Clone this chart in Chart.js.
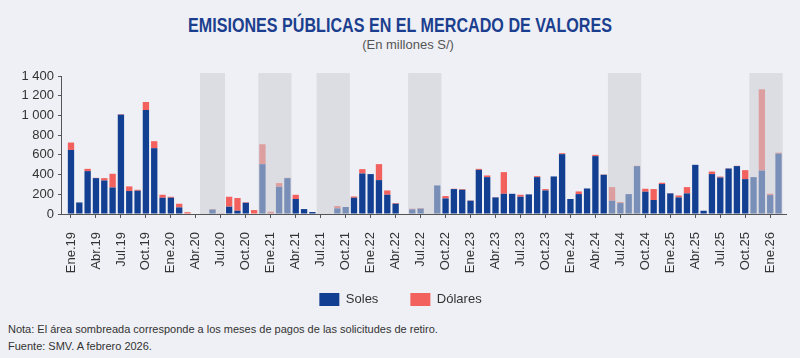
<!DOCTYPE html>
<html lang="es">
<head>
<meta charset="utf-8">
<script src="https://cdn.jsdelivr.net/npm/chart.js@4.4.1/dist/chart.umd.min.js"></script>
<style>
  html, body { margin: 0; padding: 0; }
  body {
    width: 800px; height: 358px; position: relative; overflow: hidden;
    background: #eff0f5;
    font-family: 'Liberation Sans', Arial, sans-serif;
  }
  .titulo {
    position: absolute; left: 0; width: 800px; top: 14px; text-align: center;
    font-size: 20px; font-weight: bold; color: #1b3f8e;
  }
  .titulo span { display: inline-block; transform-origin: 50% 50%; }
  .subtitulo {
    position: absolute; left: 0; width: 800px; top: 37px; text-align: center;
    font-size: 13px; color: #555; padding-left: 8px;
  }
  .grafico { position: absolute; left: 0; top: 60px; width: 800px; height: 256px; }
  .nota {
    position: absolute; left: 8px; top: 321px; font-size: 11px; color: #333; line-height: 17px;
  }
</style>
</head>
<body>
<div class="titulo"><span id="titulo">EMISIONES PÚBLICAS EN EL MERCADO DE VALORES</span></div>
<div class="subtitulo">(En millones S/)</div>
<div class="grafico"><canvas id="graficoEmisiones"></canvas></div>
<div class="nota">Nota: El área sombreada corresponde a los meses de pagos de las solicitudes de retiro.<br>Fuente: SMV. A febrero 2026.</div>
<script>
// Meses (Ene.19 - Feb.26)
const meses = [
    "Ene.19", "Feb.19", "Mar.19", "Abr.19", "May.19", "Jun.19", "Jul.19", "Ago.19", "Sep.19", "Oct.19", "Nov.19", "Dic.19",
    "Ene.20", "Feb.20", "Mar.20", "Abr.20", "May.20", "Jun.20", "Jul.20", "Ago.20", "Sep.20", "Oct.20", "Nov.20", "Dic.20",
    "Ene.21", "Feb.21", "Mar.21", "Abr.21", "May.21", "Jun.21", "Jul.21", "Ago.21", "Sep.21", "Oct.21", "Nov.21", "Dic.21",
    "Ene.22", "Feb.22", "Mar.22", "Abr.22", "May.22", "Jun.22", "Jul.22", "Ago.22", "Sep.22", "Oct.22", "Nov.22", "Dic.22",
    "Ene.23", "Feb.23", "Mar.23", "Abr.23", "May.23", "Jun.23", "Jul.23", "Ago.23", "Sep.23", "Oct.23", "Nov.23", "Dic.23",
    "Ene.24", "Feb.24", "Mar.24", "Abr.24", "May.24", "Jun.24", "Jul.24", "Ago.24", "Sep.24", "Oct.24", "Nov.24", "Dic.24",
    "Ene.25", "Feb.25", "Mar.25", "Abr.25", "May.25", "Jun.25", "Jul.25", "Ago.25", "Sep.25", "Oct.25", "Nov.25", "Dic.25",
    "Ene.26", "Feb.26"
];

// Emisiones en soles (millones S/)
const soles = [
    650, 117, 435, 364, 340, 269, 1008, 233, 236, 1055, 668, 165,
    165, 67, 0, 0, 0, 45, 0, 74, 33, 114, 0, 506,
    0, 276, 364, 152, 50, 20, 0, 0, 57, 71, 165, 411,
    405, 344, 195, 104, 0, 47, 54, 0, 290, 158, 253, 246,
    135, 448, 374, 168, 205, 205, 175, 199, 374, 239, 381, 607,
    152, 202, 259, 587, 398, 135, 111, 202, 486, 226, 142, 304,
    209, 168, 209, 499, 33, 405, 370, 461, 486, 354, 374, 441,
    192, 613
];

// Emisiones en dólares (expresadas en millones S/)
const dolares = [
    75, 0, 23, 3, 24, 139, 5, 47, 10, 81, 71, 30,
    10, 37, 18, 0, 0, 5, 8, 101, 129, 5, 40, 202,
    23, 38, 3, 43, 0, 0, 5, 5, 24, 0, 13, 44,
    0, 162, 44, 7, 0, 7, 7, 0, 0, 24, 3, 7,
    3, 10, 17, 3, 220, 0, 20, 0, 10, 14, 0, 10,
    0, 27, 0, 13, 3, 138, 10, 0, 3, 30, 111, 13,
    3, 20, 64, 0, 0, 26, 10, 3, 3, 91, 0, 824,
    14, 10
];

// Meses de pagos de las solicitudes de retiro (área sombreada)
const periodosRetiro = [
    ["May.20", "Jul.20"],
    ["Dic.20", "Mar.21"],
    ["Jul.21", "Oct.21"],
    ["Jun.22", "Sep.22"],
    ["Jun.24", "Sep.24"],
    ["Nov.25", "Feb.26"]
];

const ticksY = [0, 200, 400, 600, 800, 1000, 1200, 1400];

const fuente = "'Liberation Sans', Arial, sans-serif";

// el título del original es condensado: se comprime a lo ancho
const titulo = document.getElementById("titulo");
titulo.style.transform = "scaleX(" + (424 / titulo.offsetWidth) + ")";

// Sombreado encima de las barras (las aclara)
const sombreado = {
    id: "sombreado",
    afterDatasetsDraw(chart) {
        const ctx = chart.ctx;
        const x = chart.scales.x;
        const y = chart.scales.y;
        ctx.save();
        ctx.fillStyle = "rgba(205, 207, 213, 0.56)";
        periodosRetiro.forEach(p => {
            const i0 = meses.indexOf(p[0]);
            const i1 = meses.indexOf(p[1]);
            const left = x.getPixelForValue(i0 - 0.5);
            const right = x.getPixelForValue(i1 + 0.5);
            const top = y.getPixelForValue(1430);
            ctx.fillRect(left, top, right - left, y.getPixelForValue(0) - top);
        });
        ctx.restore();
    }
};

const ctx = document.getElementById("graficoEmisiones").getContext("2d");

new Chart(ctx, {
    type: "bar",
    data: {
        datasets: [
            {
                label: "Soles",
                data: soles.map((v, i) => ({ x: i, y: v })),
                backgroundColor: "#123f91",
            },
            {
                label: "Dólares",
                data: dolares.map((v, i) => ({ x: i, y: v })),
                backgroundColor: "#f2615d",
            },
        ],
    },
    options: {
        responsive: true,
        maintainAspectRatio: false,
        animation: false,
        barPercentage: 0.76,
        categoryPercentage: 1,
        layout: { padding: { top: 16, right: 9, left: 10, bottom: 0 } },
        plugins: {
            title: { display: false },
            tooltip: { enabled: false },
            legend: {
                position: "bottom",
                labels: {
                    boxWidth: 20,
                    boxHeight: 13,
                    padding: 19,
                    color: "#333",
                    font: { family: fuente, size: 13 },
                    generateLabels: chart => {
                        const items = Chart.defaults.plugins.legend.labels.generateLabels(chart);
                        items[0].text += "\u2003";
                        return items;
                    },
                },
            },
        },
        scales: {
            x: {
                type: "linear",
                stacked: true,
                offset: false,
                min: -1.2,
                max: 85.9,
                z: 1,
                afterBuildTicks: axis => {
                    axis.ticks = meses.map((m, i) => ({ value: i })).filter(t => t.value % 3 === 0);
                },
                afterFit: axis => { axis.height = 60; },
                grid: { offset: false, drawOnChartArea: false, drawTicks: true, tickLength: 4, color: "#555" },
                border: { display: true, color: "#555" },
                ticks: {
                    autoSkip: false,
                    maxRotation: 90,
                    minRotation: 90,
                    padding: 14,
                    color: "#333",
                    font: { family: fuente, size: 13 },
                    callback: v => meses[v],
                },
            },
            y: {
                stacked: true,
                min: 0,
                max: 1400,
                z: 1,
                afterBuildTicks: axis => {
                    axis.ticks = ticksY.map(v => ({ value: v }));
                },
                afterFit: axis => { axis.width = 51; },
                grid: { drawOnChartArea: false, drawTicks: true, tickLength: 3, color: "#555" },
                border: { display: true, color: "#555" },
                ticks: {
                    autoSkip: false,
                    padding: 4,
                    color: "#333",
                    font: { family: fuente, size: 13 },
                    callback: v => String(v).replace(/\B(?=(\d{3})+(?!\d))/g, " "),
                },
            },
        },
    },
    plugins: [sombreado],
});
</script>
</body>
</html>
